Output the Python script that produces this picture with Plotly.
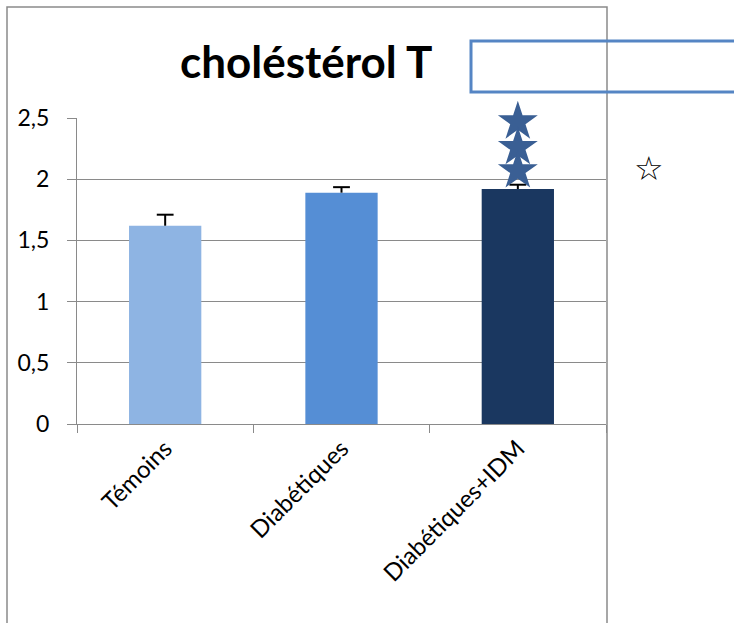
import plotly.graph_objects as go

# ---- data ----
categories = ["Témoins", "Diabétiques", "Diabétiques+IDM"]
values = [1.62, 1.89, 1.92]
errors_plus = [0.09, 0.045, 0.035]
bar_colors = ["#8EB4E3", "#558ED5", "#1A3760"]
sig_star_category = ["Diabétiques+IDM", "Diabétiques+IDM", "Diabétiques+IDM"]
sig_star_y = [2.47, 2.26, 2.07]
y_ticks = [0, 0.5, 1, 1.5, 2, 2.5]
title_text = "choléstérol T"

W, H = 734, 623
L, R, T, B = 77, 128, 118, 199
pw, ph = W - L - R, H - T - B

def px_x(x):
    return (x - L) / pw

def px_y(y):
    return (H - B - y) / ph

FONT = "Lato"
fig = go.Figure()
fig.add_trace(go.Bar(
    x=categories, y=values, width=0.41,
    marker=dict(color=bar_colors, line=dict(width=0)),
    showlegend=False, hoverinfo="skip",
))
# plus-only error bars drawn as "T": stem via error_y (no caps), cap via marker
err_tops = [v + e for v, e in zip(values, errors_plus)]
fig.add_trace(go.Scatter(
    x=categories, y=err_tops, mode="markers",
    marker=dict(symbol="line-ew-open", size=12, color="black",
                line=dict(width=2, color="black")),
    error_y=dict(type="data", array=[0, 0, 0], arrayminus=errors_plus,
                 symmetric=False, color="black", thickness=2, width=0),
    showlegend=False, hoverinfo="skip", cliponaxis=False,
))
fig.add_trace(go.Scatter(
    x=sig_star_category, y=sig_star_y, mode="markers",
    marker=dict(symbol="star", size=30, color="#3A5F94", line=dict(width=0)),
    showlegend=False, cliponaxis=False, hoverinfo="skip",
))

gray = "#8A8A8A"
fig.update_layout(
    width=W, height=H,
    margin=dict(l=L, r=R, t=T, b=B, autoexpand=False),
    paper_bgcolor="white", plot_bgcolor="white",
    separators=", ",
    font=dict(family=FONT, color="black"),
    xaxis=dict(
        type="category", showgrid=False, showline=True, linecolor=gray, linewidth=1,
        ticks="outside", ticklen=8, tickcolor=gray, tickwidth=1, tickson="boundaries",
        tickangle=-45, tickfont=dict(size=24, family=FONT),
        ticklabelstandoff=0,
    ),
    yaxis=dict(
        range=[0, 2.5], tickvals=y_ticks, showgrid=True, gridcolor=gray, gridwidth=1,
        showline=True, linecolor=gray, linewidth=1, zeroline=False,
        ticks="outside", ticklen=9, tickcolor=gray, tickwidth=1,
        tickfont=dict(size=23, family=FONT), ticklabelstandoff=13,
    ),
    shapes=[
        # chart border
        dict(type="rect", xref="paper", yref="paper",
             x0=px_x(7), x1=px_x(607), y0=px_y(640), y1=px_y(7),
             line=dict(color=gray, width=1.5), layer="below"),
        # blue empty text box
        dict(type="rect", xref="paper", yref="paper",
             x0=px_x(471), x1=px_x(760), y0=px_y(92), y1=px_y(41),
             line=dict(color="#5585C4", width=3), fillcolor="rgba(0,0,0,0)"),
    ],
    annotations=[
        dict(text="<b>" + title_text + "</b>", xref="paper", yref="paper",
             x=px_x(306), y=px_y(61), xanchor="center", yanchor="middle",
             showarrow=False, font=dict(size=44, family=FONT, color="black")),
        dict(text="<b>☆</b>", xref="paper", yref="paper",
             x=px_x(649), y=px_y(168), xanchor="center", yanchor="middle",
             showarrow=False, font=dict(size=33, family="DejaVu Sans", color="black")),
    ],
)

fig.write_html(
    "out.html",
    config={"displayModeBar": False},
    post_script="document.body.style.margin='0';document.body.style.overflow='hidden';",
)
